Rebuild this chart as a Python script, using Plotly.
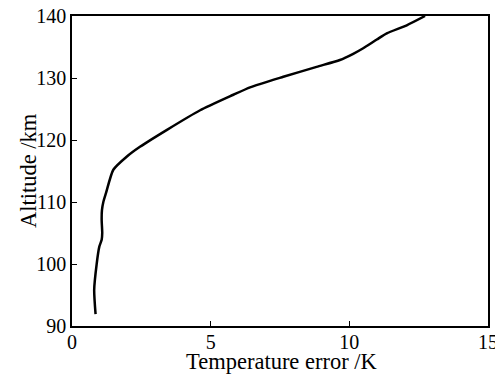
import plotly.graph_objects as go

temperature_error = [0.85, 0.80, 0.89, 0.985, 1.07, 1.09, 1.07, 1.08, 1.13, 1.23, 1.49, 1.97, 2.45,
                     3.41, 4.62, 5.82, 6.42, 7.62, 8.82, 9.66, 10.14, 10.5, 10.99, 11.35, 12.07, 12.73]
altitude = [91.9, 95.8, 100.0, 102.8, 103.9, 105.0, 107.1, 108.7, 110.0, 111.5, 115.2, 117.3, 118.9,
            121.6, 124.8, 127.3, 128.5, 130.2, 131.8, 132.9, 133.9, 134.8, 136.2, 137.2, 138.5, 140.0]

x_ticks = [0, 5, 10, 15]
y_ticks = [90, 100, 110, 120, 130, 140]
x_title = "Temperature error /K"
y_title = "Altitude /km"

tick_font = dict(family="Liberation Serif", size=20, color="black")
title_font = dict(family="Liberation Serif", size=22.5, color="black")

fig = go.Figure()
fig.add_trace(go.Scatter(x=temperature_error, y=altitude, mode="lines",
                         line=dict(color="black", width=2.5, shape="spline", smoothing=0.6),
                         showlegend=False, hoverinfo="skip"))

# page body has an 8px margin, so the figure is offset by 8px on screen
fig.update_layout(
    width=495, height=367,
    margin=dict(l=64, r=15, t=8, b=49),
    paper_bgcolor="white", plot_bgcolor="white",
    font=tick_font,
)
fig.update_xaxes(range=[0, 15], tickvals=x_ticks, ticks="inside", ticklen=5, tickcolor="black",
                 showline=True, linecolor="black", linewidth=1.5, mirror=True, showgrid=False,
                 zeroline=False, automargin=False, ticklabeloverflow="allow",
                 ticklabelstandoff=-3, tickfont=tick_font)
fig.update_yaxes(range=[90, 140], tickvals=y_ticks, ticks="inside", ticklen=5, tickcolor="black",
                 showline=True, linecolor="black", linewidth=1.5, mirror=True, showgrid=False,
                 zeroline=False, automargin=False, ticklabeloverflow="allow",
                 tickfont=tick_font)

fig.add_annotation(text=x_title, xref="paper", yref="paper", x=0.5, y=0,
                   xanchor="center", yanchor="middle", xshift=2, yshift=-35,
                   showarrow=False, font=title_font)
fig.add_annotation(text=y_title, xref="paper", yref="paper", x=0, y=0.5,
                   xanchor="center", yanchor="middle", xshift=-44, textangle=-90,
                   showarrow=False, font=title_font)

fig.write_html("out.html")
